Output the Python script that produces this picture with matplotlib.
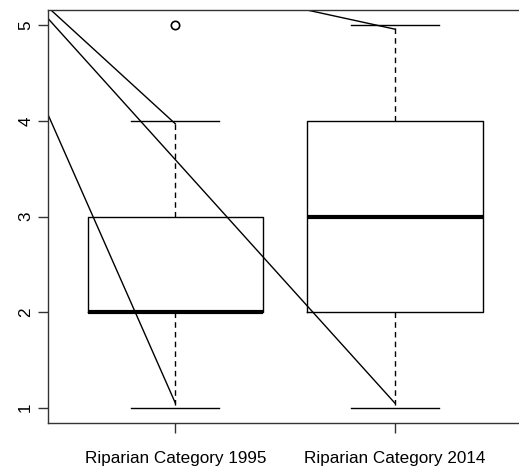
import matplotlib.pyplot as plt

# box statistics
labels = ["Riparian Category 1995", "Riparian Category 2014"]
q1 = [2, 2]
med = [2, 3]
q3 = [3, 4]
whislo = [1, 1]
whishi = [4, 5]
outliers = [[5], []]

# stray straight lines drawn over the plot (data coordinates)
line_x = [[0.0, 1.0], [0.0, 1.0], [0.0, 2.0], [1.0, 2.0]]
line_y = [[6.25, 1.05], [6.07, 3.97], [6.14, 1.05], [5.46, 4.96]]

plt.rcParams["font.family"] = ["Liberation Sans", "DejaVu Sans"]

fig = plt.figure(figsize=(5.19, 4.69), dpi=100)
W, H = 519, 469
ax = fig.add_axes([48 / W, (H - 423) / H, (522 - 48) / W, (423 - 10) / H])

stats = []
for i in range(len(labels)):
    stats.append(dict(label=labels[i], q1=q1[i], med=med[i], q3=q3[i],
                      whislo=whislo[i], whishi=whishi[i], fliers=outliers[i]))

ax.bxp(stats, positions=[1, 2], widths=0.8, showfliers=True,
       boxprops=dict(color="black", linewidth=1.0),
       medianprops=dict(color="black", linewidth=3.0, solid_capstyle="butt"),
       whiskerprops=dict(color="black", linewidth=1.0, linestyle=(0, (4, 3))),
       capprops=dict(color="black", linewidth=1.0),
       capwidths=0.4,
       flierprops=dict(marker="o", markerfacecolor="none", markeredgecolor="black",
                       markersize=6, markeredgewidth=1.2))

for xs, ys in zip(line_x, line_y):
    ax.plot(xs, ys, color="black", linewidth=1.0)

ax.set_xlim(0.42, 2.58)
ax.set_ylim(0.84, 5.16)
ax.set_xticks([1, 2])
ax.set_xticklabels(labels)
ax.set_yticks([1, 2, 3, 4, 5])
ax.set_yticklabels(["1", "2", "3", "4", "5"], rotation=90, va="center")

for side in ["left", "bottom", "top", "right"]:
    ax.spines[side].set_color("#333333")
    ax.spines[side].set_linewidth(1.0)

ax.tick_params(axis="both", length=7.2, width=1.0, color="#333333", labelsize=12.3)
ax.tick_params(axis="x", pad=13)
ax.tick_params(axis="y", pad=3.5)

fig.savefig("out.png", dpi=100)
